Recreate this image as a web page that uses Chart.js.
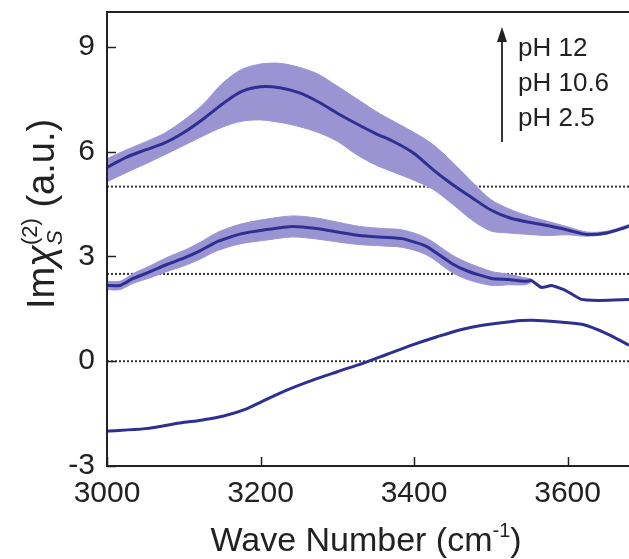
<!DOCTYPE html>
<html>
<head>
<meta charset="utf-8">
<script src="https://cdn.jsdelivr.net/npm/chart.js@4/dist/chart.umd.min.js"></script>
<style>
html, body { margin: 0; padding: 0; background: #fff; }
</style>
</head>
<body>
<canvas id="chart" width="629" height="559"></canvas>
<script>
// wave numbers (cm-1) and Im chi values
const waveTop = [3000, 3025, 3050, 3075, 3100, 3125, 3150, 3175, 3200, 3225, 3250, 3275, 3300, 3325,
  3350, 3375, 3400, 3425, 3450, 3475, 3500, 3525, 3550, 3575, 3600, 3625, 3650, 3675, 3680]
const ph12 = [5.55, 5.84, 6.05, 6.25, 6.55, 6.93, 7.36, 7.72, 7.86, 7.83, 7.69, 7.43, 7.10, 6.80,
  6.52, 6.27, 5.95, 5.48, 5.06, 4.69, 4.33, 4.10, 3.98, 3.88, 3.76, 3.63, 3.67, 3.83, 3.87]
const ph12Upper = [5.80, 6.05, 6.28, 6.53, 6.90, 7.35, 7.95, 8.35, 8.51, 8.53, 8.42, 8.22, 7.88, 7.52,
  7.16, 6.85, 6.55, 6.20, 5.70, 5.15, 4.63, 4.35, 4.15, 4.00, 3.85, 3.70, 3.72, 3.88, 3.92]
const ph12Lower = [5.14, 5.40, 5.65, 5.91, 6.18, 6.45, 6.70, 6.87, 6.91, 6.84, 6.72, 6.55, 6.30, 5.92,
  5.62, 5.40, 5.18, 4.92, 4.50, 4.05, 3.73, 3.67, 3.63, 3.60, 3.62, 3.58, 3.63, 3.80, 3.84]

const waveMid = [3000, 3017, 3034, 3055, 3078, 3100, 3121, 3143, 3173, 3208, 3242, 3273, 3303, 3329, 3360,
  3385, 3416, 3449, 3471, 3501, 3523, 3545, 3553, 3566, 3579, 3597, 3618, 3640, 3660, 3680]
const ph106 = [2.17, 2.17, 2.37, 2.55, 2.77, 2.95, 3.16, 3.42, 3.64, 3.77, 3.86, 3.80, 3.69, 3.60, 3.55,
  3.51, 3.29, 2.80, 2.57, 2.37, 2.34, 2.29, 2.31, 2.11, 2.17, 2.03, 1.77, 1.74, 1.75, 1.77]
// error band of pH 10.6 stops at 3553
const ph106Upper = [2.29, 2.29, 2.51, 2.72, 2.97, 3.17, 3.40, 3.68, 3.92, 4.07, 4.16, 4.10, 3.97, 3.86, 3.80,
  3.76, 3.53, 3.05, 2.81, 2.57, 2.49, 2.39, 2.36]
const ph106Lower = [2.05, 2.05, 2.23, 2.38, 2.57, 2.73, 2.92, 3.16, 3.36, 3.47, 3.56, 3.50, 3.41, 3.34, 3.30,
  3.26, 3.05, 2.55, 2.33, 2.17, 2.19, 2.19, 2.26]

const waveLow = [3000, 3050, 3095, 3125, 3152, 3180, 3203, 3235, 3268, 3300, 3333, 3365, 3397, 3430,
  3462, 3489, 3528, 3553, 3590, 3620, 3650, 3680]
const ph25 = [-2.00, -1.93, -1.77, -1.68, -1.57, -1.38, -1.14, -0.82, -0.54, -0.30, -0.06, 0.20, 0.46, 0.70,
  0.91, 1.03, 1.14, 1.17, 1.12, 1.05, 0.80, 0.46]

const baselines = [5, 2.5, 0]
const phLabels = ['pH 12', 'pH 10.6', 'pH 2.5']
const xTicks = [3000, 3200, 3400, 3600]
const yTicks = [-3, 0, 3, 6, 9]

const FONT = "'Liberation Sans', Arial, sans-serif"
const LINE = '#2e2f91'
const BAND = '#9a95d2'
const INK = '#222'

const pts = (xs, ys) => ys.map((y, i) => ({ x: xs[i], y }))

const xMinor = []
for (let v = 3000; v <= 3650; v += 50) xMinor.push(v)
const yMinor = []
for (let v = -3; v <= 10; v += 1) yMinor.push(v)

/**
 * Draws text pieces one after another (used for sub/superscripts).
 */
function drawRich (ctx, parts, cx, cy) {
  let total = 0
  parts.forEach(p => {
    ctx.font = p.font
    p.w = p.stack ? Math.max(...p.stack.map(s => { ctx.font = s.font; return ctx.measureText(s.text).width })) : ctx.measureText(p.text).width
    total += p.w
  })
  let x = cx - total / 2
  ctx.textAlign = 'left'
  ctx.textBaseline = 'alphabetic'
  parts.forEach(p => {
    const list = p.stack || [p]
    list.forEach(s => {
      ctx.font = s.font
      ctx.fillText(s.text, x, cy + (s.dy || 0))
    })
    x += p.w
  })
}

const frame = {
  id: 'frame',
  afterDatasetsDraw (chart) {
    const { ctx, chartArea: a, scales: { x, y } } = chart
    ctx.save()
    ctx.strokeStyle = INK
    ctx.lineWidth = 2
    ctx.beginPath()
    ctx.moveTo(a.right + 2, a.top)
    ctx.lineTo(a.left, a.top)
    ctx.lineTo(a.left, a.bottom)
    ctx.lineTo(a.right + 2, a.bottom)
    ctx.stroke()
    ctx.lineWidth = 1.5
    ctx.beginPath()
    x.ticks.forEach(t => {
      const px = Math.round(x.getPixelForValue(t.value)) + 0.5
      const len = xTicks.includes(t.value) ? 9 : 5
      ctx.moveTo(px, a.bottom)
      ctx.lineTo(px, a.bottom - len)
    })
    y.ticks.forEach(t => {
      if (t.value >= 10) return
      const py = Math.round(y.getPixelForValue(t.value)) + 0.5
      const len = yTicks.includes(t.value) ? 9 : 5
      ctx.moveTo(a.left, py)
      ctx.lineTo(a.left + len, py)
    })
    ctx.stroke()
    ctx.restore()
  },
  afterDraw (chart) {
    const { ctx } = chart
    ctx.save()
    ctx.fillStyle = INK
    // x title
    drawRich(ctx, [
      { text: 'Wave Number (cm', font: `34px ${FONT}` },
      { text: '-1', font: `20px ${FONT}`, dy: -14 },
      { text: ')', font: `34px ${FONT}` }
    ], 366, 551)
    // y title
    ctx.translate(54, 214)
    ctx.rotate(-Math.PI / 2)
    drawRich(ctx, [
      { text: 'Im', font: `38px ${FONT}` },
      { text: 'χ', font: `italic 40px ${FONT}` },
      { stack: [
        { text: '(2)', font: `22px ${FONT}`, dy: -17 },
        { text: 'S', font: `italic 22px ${FONT}`, dy: 8 }
      ] },
      { text: ' (a.u.)', font: `38px ${FONT}` }
    ], 0, 0)
    ctx.restore()

    // arrow + pH labels
    ctx.save()
    ctx.strokeStyle = INK
    ctx.fillStyle = INK
    ctx.lineWidth = 1.8
    ctx.beginPath()
    ctx.moveTo(502, 142)
    ctx.lineTo(502, 38)
    ctx.stroke()
    ctx.beginPath()
    ctx.moveTo(502, 27)
    ctx.lineTo(497, 42)
    ctx.lineTo(507, 42)
    ctx.closePath()
    ctx.fill()
    ctx.font = `26px ${FONT}`
    ctx.textBaseline = 'middle'
    ctx.textAlign = 'left'
    phLabels.forEach((t, i) => ctx.fillText(t, 518, 49 + i * 35))
    ctx.restore()
  }
}

const lineDs = (label, xs, ys, tension) => ({
  label,
  data: pts(xs, ys),
  borderColor: LINE,
  borderWidth: 3,
  pointRadius: 0,
  tension,
  fill: false,
  order: 0
})
const bandDs = (xs, ys, fill) => ({
  data: pts(xs, ys),
  borderColor: BAND,
  borderWidth: 1,
  backgroundColor: BAND,
  pointRadius: 0,
  tension: 0.3,
  fill,
  order: 5
})
const dotDs = v => ({
  data: [{ x: 3000, y: v }, { x: 3680, y: v }],
  borderColor: '#333',
  borderWidth: 2,
  borderDash: [2, 2],
  pointRadius: 0,
  fill: false,
  order: 10
})

new Chart(document.getElementById('chart'), {
  type: 'line',
  data: {
    datasets: [
      bandDs(waveTop, ph12Upper, '+1'),
      bandDs(waveTop, ph12Lower, false),
      bandDs(waveMid, ph106Upper, '+1'),
      bandDs(waveMid, ph106Lower, false),
      lineDs(phLabels[0], waveTop, ph12, 0.3),
      lineDs(phLabels[1], waveMid, ph106, 0.15),
      lineDs(phLabels[2], waveLow, ph25, 0.3),
      ...baselines.map(dotDs)
    ]
  },
  options: {
    responsive: false,
    animation: false,
    devicePixelRatio: 1,
    layout: { padding: { top: 12, right: 0, left: 0, bottom: 0 } },
    plugins: { legend: { display: false }, tooltip: { enabled: false } },
    scales: {
      x: {
        type: 'linear',
        min: 3000,
        max: 3680,
        grid: { display: false, drawTicks: false },
        border: { display: false },
        afterBuildTicks: s => { s.ticks = xMinor.map(v => ({ value: v })) },
        ticks: {
          callback: v => xTicks.includes(v) ? String(v) : null,
          font: { family: FONT, size: 30 },
          color: INK,
          padding: 10,
          maxRotation: 0,
          autoSkip: false
        },
        afterFit: s => {
          s.height = 93
          s.paddingLeft = 0
          s.paddingRight = 0
        }
      },
      y: {
        type: 'linear',
        min: -3,
        max: 10,
        grid: { display: false, drawTicks: false },
        border: { display: false },
        afterBuildTicks: s => { s.ticks = yMinor.map(v => ({ value: v })) },
        ticks: {
          callback: v => yTicks.includes(v) ? String(v) : null,
          font: { family: FONT, size: 30 },
          color: INK,
          padding: 12,
          autoSkip: false
        },
        afterFit: s => {
          s.width = 107
          s.paddingTop = 0
          s.paddingBottom = 0
        }
      }
    }
  },
  plugins: [frame]
})
</script>
</body>
</html>
